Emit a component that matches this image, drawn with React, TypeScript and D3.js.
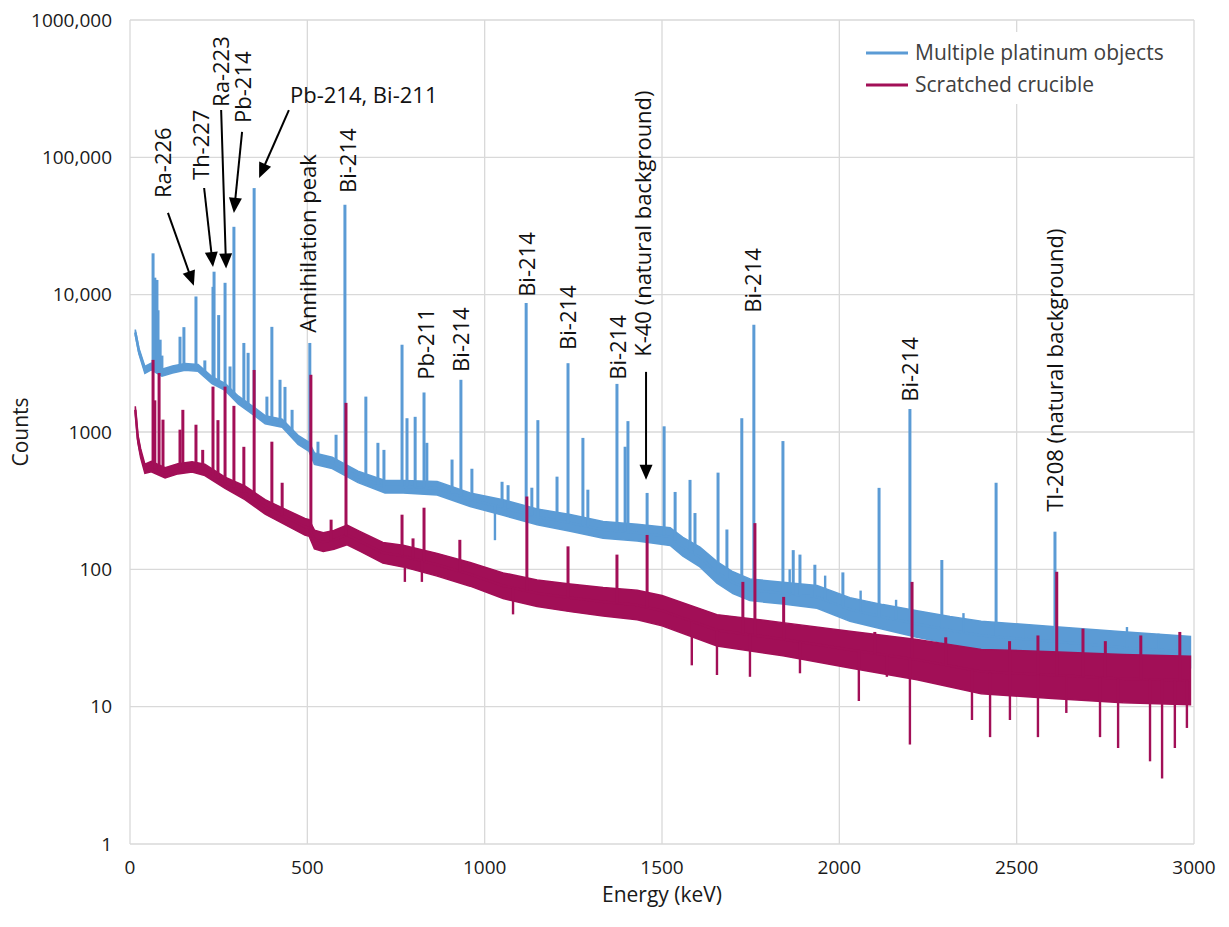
import React from "react";
import * as d3 from "d3";

// ---------- DATA ----------
// Multiple platinum objects: continuum knots (energy keV, counts) and noise spread factor
const blueE = [15, 25, 42, 60, 90, 120, 155, 192, 231, 268, 305, 344, 381, 429, 474, 505, 520, 570, 643, 719, 770, 866, 959, 1052, 1148, 1241, 1334, 1430, 1523, 1559, 1607, 1655, 1700, 1748, 1841, 1937, 2030, 2123, 2219, 2312, 2400, 2600, 2800, 2990];
const blueC = [5300, 3900, 2830, 3000, 2700, 2850, 2980, 2930, 2390, 2130, 1710, 1450, 1230, 1160, 876, 780, 640, 596, 471, 399, 399, 390, 321, 282, 241, 218, 194, 185, 173, 146, 123, 95, 80, 71, 67, 63, 51, 45, 40, 36, 33, 30, 27, 25];
const blueSpread = [1.05, 1.05, 1.06, 1.06, 1.06, 1.06, 1.06, 1.06, 1.06, 1.06, 1.07, 1.07, 1.07, 1.07, 1.08, 1.08, 1.1, 1.1, 1.1, 1.11, 1.11, 1.12, 1.12, 1.14, 1.14, 1.15, 1.15, 1.15, 1.16, 1.17, 1.18, 1.2, 1.2, 1.2, 1.2, 1.21, 1.22, 1.23, 1.25, 1.26, 1.27, 1.28, 1.3, 1.3];
// peaks of the platinum spectrum
const bluePeakE = [65, 70, 76, 79, 85, 90, 141, 152, 186, 211, 234, 237, 250, 268, 282, 293, 321, 333, 350, 386, 400, 423, 437, 457, 507, 530, 581, 606, 665, 699, 716, 767, 781, 804, 829, 837, 908, 933, 964, 1049, 1066, 1117, 1133, 1150, 1204, 1235, 1277, 1291, 1373, 1396, 1404, 1458, 1506, 1537, 1579, 1593, 1658, 1683, 1725, 1759, 1841, 1870, 1889, 1931, 2010, 2112, 2199, 2289, 2442, 2608];
const bluePeakC = [20000, 13300, 12800, 7700, 4700, 3600, 4940, 5800, 9700, 3320, 11400, 14700, 7100, 12200, 3000, 31200, 4450, 3770, 59700, 1810, 5830, 2400, 2130, 1450, 4450, 850, 955, 45100, 1810, 834, 741, 4320, 1260, 1290, 1940, 834, 630, 2400, 540, 434, 410, 8700, 393, 1220, 473, 3170, 906, 380, 2240, 781, 1200, 360, 1100, 366, 448, 257, 506, 195, 1260, 6030, 859, 138, 128, 108, 95, 392, 1470, 117, 427, 188];
// isolated excursions of the platinum noise
const blueOddE = [1029, 1860, 1960, 2060, 2160, 2350, 2520, 2700, 2811, 2900, 2955];
const blueOddC = [163, 100, 90, 70, 60, 48, 40, 36, 38, 34, 33];

// Scratched crucible
const redE = [15, 22, 30, 42, 60, 99, 135, 175, 211, 268, 324, 381, 437, 493, 505, 520, 545, 575, 612, 648, 713, 770, 866, 959, 1052, 1148, 1241, 1334, 1430, 1500, 1655, 1841, 2030, 2219, 2400, 2600, 2800, 2990];
const redC = [1450, 900, 700, 540, 560, 504, 540, 557, 530, 427, 361, 285, 241, 204, 200, 165, 158, 164, 178, 160, 132, 125, 108, 92, 76, 67, 62, 58, 55, 50, 36, 31, 26, 22, 18, 17, 16, 15.5];
const redSpread = [1.06, 1.07, 1.08, 1.08, 1.09, 1.09, 1.09, 1.09, 1.1, 1.1, 1.12, 1.13, 1.14, 1.15, 1.15, 1.17, 1.17, 1.17, 1.18, 1.18, 1.19, 1.2, 1.21, 1.22, 1.24, 1.25, 1.26, 1.27, 1.28, 1.29, 1.3, 1.32, 1.36, 1.4, 1.45, 1.48, 1.5, 1.5];
const redPeakE = [65, 70, 82, 93, 141, 149, 186, 205, 234, 248, 268, 293, 321, 350, 400, 429, 510, 567, 609, 767, 798, 829, 930, 1119, 1235, 1373, 1458, 1728, 1762, 1843, 2100, 2205, 2300, 2480, 2560, 2613, 2687, 2750, 2850, 2960];
const redPeakC = [3350, 1700, 2690, 1230, 1040, 1450, 1130, 741, 2140, 1220, 2140, 1550, 780, 2830, 850, 427, 2610, 230, 1630, 250, 168, 281, 164, 339, 147, 128, 178, 81, 217, 63, 35, 81, 32, 30, 33, 96, 37, 30, 33, 35];
const redOddE = [775, 823, 1080, 1584, 1655, 1748, 1889, 2055, 2134, 2199, 2374, 2425, 2481, 2560, 2640, 2735, 2786, 2876, 2910, 2946, 2980];
const redOddC = [81, 81, 47, 20, 17, 16.5, 17.5, 11, 16.5, 5.3, 8, 6, 8, 6, 9, 6, 5, 4, 3, 5, 7];

const xTicks = [0, 500, 1000, 1500, 2000, 2500, 3000];
const yTicks = [1, 10, 100, 1000, 10000, 100000, 1000000];
const yTickLabels = ["1", "10", "100", "1000", "10,000", "100,000", "1000,000"];

const seriesNames = ["Multiple platinum objects", "Scratched crucible"];

// annotation labels anchored in data space (energy, counts)
const labelText = ["Ra-226", "Th-227", "Ra-223", "Pb-214", "Annihilation peak", "Bi-214", "Pb-211", "Bi-214", "Bi-214", "Bi-214", "Bi-214", "K-40 (natural background)", "Bi-214", "Bi-214", "Tl-208 (natural background)"];
const labelE = [116, 223, 279, 341, 524, 637, 857, 956, 1142, 1258, 1398, 1469, 1779, 2222, 2631];
const labelC = [50600, 68400, 233000, 178000, 5270, 55000, 2400, 2740, 9640, 3960, 2400, 3530, 7380, 1660, 263];
const hLabelText = "Pb-214, Bi-211";
const hLabelE = 451;
const hLabelC = 249000;

const arrowFromE = [107, 209, 257, 316, 448, 1455];
const arrowFromC = [39400, 59800, 221000, 153000, 221000, 2740];
const arrowToE = [180, 234, 271, 293, 364, 1455];
const arrowToC = [11600, 15900, 15500, 39400, 70800, 449];

// ---------- LAYOUT ----------
const W = 1229, H = 927;
const L = 130, R = 1194, T = 20, B = 844;
const BLUE = "#5b9bd5";
const RED = "#a20f57";
const FONT = "'Open Sans', 'Noto Sans', sans-serif";

const x = d3.scaleLinear().domain([0, 3000]).range([L, R]);
const y = d3.scaleLog().domain([1, 1e6]).range([B, T]);

function baseAt(E: number, Es: number[], Cs: number[]) {
  const i = d3.bisectRight(Es, E);
  if (i <= 0) return Cs[0];
  if (i >= Es.length) return Cs[Cs.length - 1];
  const t = (E - Es[i - 1]) / (Es[i] - Es[i - 1]);
  return Math.exp(Math.log(Cs[i - 1]) * (1 - t) + Math.log(Cs[i]) * t);
}

function Series({ Es, Cs, Sp, pE, pC, oE, oC, color }: any) {
  const pts = Es.map((e: number, i: number) => ({ e, c: Cs[i], s: Sp[i] }));
  const area = d3.area<any>().x(d => x(d.e)).y0(d => y(d.c / d.s)).y1(d => y(d.c * d.s));
  const line = d3.line<any>().x(d => x(d.e)).y(d => y(d.c));
  return (
    <g>
      <path d={area(pts) || ""} fill={color} stroke={color} strokeWidth={1.5} />
      <path d={line(pts) || ""} fill="none" stroke={color} strokeWidth={2.5} />
      {pE.map((e: number, i: number) => {
        const b = baseAt(e, Es, Cs);
        return <line key={"p" + i} x1={x(e)} x2={x(e)} y1={y(b)} y2={y(pC[i])} stroke={color} strokeWidth={3} />;
      })}
      {oE.map((e: number, i: number) => {
        const b = baseAt(e, Es, Cs);
        return <line key={"o" + i} x1={x(e)} x2={x(e)} y1={y(b)} y2={y(oC[i])} stroke={color} strokeWidth={2.4} />;
      })}
    </g>
  );
}

function Arrow({ x1, y1, x2, y2 }: any) {
  const dx = x2 - x1, dy = y2 - y1;
  const len = Math.hypot(dx, dy);
  const ux = dx / len, uy = dy / len;
  const hl = 15, hw = 6.5;
  const bx = x2 - ux * hl, by = y2 - uy * hl;
  const pts = [[x2, y2], [bx - uy * hw, by + ux * hw], [bx + uy * hw, by - ux * hw]];
  return (
    <g>
      <line x1={x1} y1={y1} x2={bx + ux * 2} y2={by + uy * 2} stroke="#000" strokeWidth={2} />
      <polygon points={pts.map(p => p.join(",")).join(" ")} fill="#000" />
    </g>
  );
}

export default function App() {
  return (
    <svg width={W} height={H} style={{ position: "absolute", left: 0, top: 0, background: "#fff" }} fontFamily={FONT}>
      <rect x={0} y={0} width={W} height={H} fill="#fff" />
      {/* grid */}
      {xTicks.map(t => (
        <line key={"gx" + t} x1={x(t)} x2={x(t)} y1={T} y2={B} stroke="#d9d9d9" strokeWidth={1.3} />
      ))}
      {yTicks.map(t => (
        <line key={"gy" + t} x1={L} x2={R} y1={y(t)} y2={y(t)} stroke="#d9d9d9" strokeWidth={1.3} />
      ))}
      {/* series */}
      <Series Es={blueE} Cs={blueC} Sp={blueSpread} pE={bluePeakE} pC={bluePeakC} oE={blueOddE} oC={blueOddC} color={BLUE} />
      <Series Es={redE} Cs={redC} Sp={redSpread} pE={redPeakE} pC={redPeakC} oE={redOddE} oC={redOddC} color={RED} />
      {/* axis ticks */}
      {yTicks.map((t, i) => (
        <text key={"ty" + t} x={L - 18} y={y(t)} dy="0.35em" textAnchor="end" fontSize={19} fill="#1a1a1a">{yTickLabels[i]}</text>
      ))}
      {xTicks.map(t => (
        <text key={"tx" + t} x={x(t)} y={B + 30} textAnchor="middle" fontSize={19} fill="#1a1a1a">{t}</text>
      ))}
      <text x={(L + R) / 2} y={B + 58} textAnchor="middle" fontSize={21} fill="#1a1a1a">Energy (keV)</text>
      <text transform={`translate(28,${(T + B) / 2}) rotate(-90)`} textAnchor="middle" fontSize={21} fill="#1a1a1a">Counts</text>
      {/* annotations */}
      {labelText.map((s, i) => (
        <text key={"lb" + i} transform={`translate(${x(labelE[i])},${y(labelC[i])}) rotate(-90)`} fontSize={22} fill="#111">{s}</text>
      ))}
      <text x={x(hLabelE)} y={y(hLabelC)} fontSize={22} fill="#111">{hLabelText}</text>
      {arrowFromE.map((e, i) => (
        <Arrow key={"ar" + i} x1={x(e)} y1={y(arrowFromC[i])} x2={x(arrowToE[i])} y2={y(arrowToC[i])} />
      ))}
      {/* legend */}
      <rect x={858} y={32} width={330} height={72} fill="#fff" />
      <line x1={866} x2={908} y1={53} y2={53} stroke={BLUE} strokeWidth={3} />
      <line x1={866} x2={908} y1={85} y2={85} stroke={RED} strokeWidth={3} />
      <text x={915} y={53} dy="0.35em" fontSize={21} fill="#404040">{seriesNames[0]}</text>
      <text x={915} y={85} dy="0.35em" fontSize={21} fill="#404040">{seriesNames[1]}</text>
    </svg>
  );
}
